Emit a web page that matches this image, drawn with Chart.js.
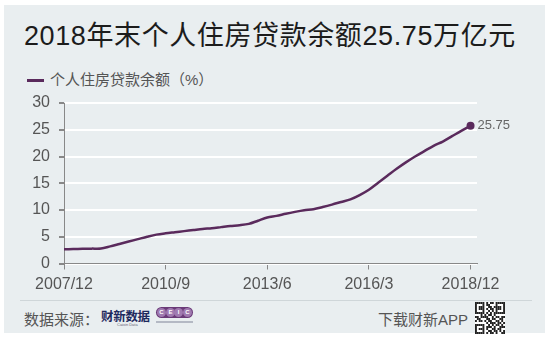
<!DOCTYPE html>
<html>
<head>
<meta charset="utf-8">
<script src="https://cdn.jsdelivr.net/npm/chart.js@4.4.0/dist/chart.umd.min.js"></script>
<style>
  html, body { margin: 0; padding: 0; background: #fff; }
  body { width: 546px; height: 339px; position: relative; overflow: hidden;
         font-family: "Liberation Sans", "Noto Sans CJK SC", sans-serif; }
  #panel { position: absolute; left: 4px; top: 5px; width: 541px; height: 328px; background: #e9eef0; }
  #title { position: absolute; left: 24px; top: 14px; font-size: 27px; color: #1c1c1c; white-space: nowrap; letter-spacing: 0.6px; }
  #legend { position: absolute; left: 27px; top: 68px; font-size: 15px; color: #555; white-space: nowrap; }
  #legend i { display: inline-block; width: 17px; height: 3px; background: #5a2a5c; vertical-align: middle; margin-right: 6px; position: relative; top: -1px; }
  #sep { position: absolute; left: 20px; top: 300px; width: 512px; height: 1px; background: #cfd6d9; }
  #src { position: absolute; left: 24px; top: 308px; font-size: 15px; color: #555; }
  #caixin { position: absolute; left: 101px; top: 306px; font-size: 12.5px; font-weight: bold; color: #1f2a5e; letter-spacing: -0.3px; }
  #caixin small { position: absolute; left: 16px; top: 16px; font-size: 4px; font-weight: normal; color: #667; letter-spacing: 0; }
  #ceic { position: absolute; left: 156px; top: 307px; width: 37px; height: 11px; border-radius: 6px; background: #6a3a78; }
  #ceic b { position: absolute; top: 1px; width: 9px; height: 9px; border-radius: 50%; background: #a07ab0; color: #fff; font-size: 6px; line-height: 9px; text-align: center; }
  #ceicsub { position: absolute; left: 156px; top: 321px; width: 37px; height: 2px; background: #b4b9c4; }
  #app { position: absolute; left: 378px; top: 308px; font-size: 15px; color: #555; }
  #qr { position: absolute; left: 475px; top: 302px; }
  #chart { position: absolute; left: 0; top: 0; }
</style>
</head>
<body>
<div id="panel"></div>
<div id="title">2018年末个人住房贷款余额25.75万亿元</div>
<div id="legend"><i></i>个人住房贷款余额（%）</div>
<div id="sep"></div>
<div id="src">数据来源：</div>
<div id="caixin">财新数据<small>Caixin Data</small></div>
<div id="ceic"><b style="left:1px">C</b><b style="left:10px">E</b><b style="left:18px">I</b><b style="left:27px">C</b></div>
<div id="ceicsub"></div>
<div id="app">下载财新APP</div>
<canvas id="qr" width="30" height="32"></canvas>
<canvas id="chart" width="546" height="339"></canvas>
<script>
// quarterly, 2007/12 .. 2018/12 (万亿元)
const values = [
  2.65, 2.7, 2.75, 2.78, 2.8, 3.2, 3.65, 4.1, 4.55, 5.0,
  5.4, 5.65, 5.85, 6.05, 6.25, 6.45, 6.6, 6.8, 7.0, 7.15,
  7.4, 8.0, 8.6, 8.9, 9.3, 9.65, 9.95, 10.15, 10.55, 11.0,
  11.5, 12.0, 12.8, 13.8, 15.1, 16.4, 17.7, 18.9, 20.0, 21.0,
  22.0, 22.8, 23.8, 24.8, 25.75
];
const tickIdx = [0, 11, 22, 33, 44];
const tickLabels = ['2007/12', '2010/9', '2013/6', '2016/3', '2018/12'];
const yTicks = [0, 5, 10, 15, 20, 25, 30];

const points = values.map((v, i) => ({ x: i, y: v }));
const lastIdx = values.length - 1;

const endLabel = {
  id: 'endLabel',
  afterDatasetsDraw(chart) {
    const ctx = chart.ctx;
    const xs = chart.scales.x, ys = chart.scales.y;
    const px = xs.getPixelForValue(lastIdx);
    const py = ys.getPixelForValue(values[lastIdx]);
    ctx.save();
    ctx.fillStyle = '#666';
    ctx.font = '13px "Liberation Sans", sans-serif';
    ctx.textBaseline = 'middle';
    ctx.fillText(values[lastIdx].toFixed(2), px + 7, py);
    ctx.restore();
  }
};

new Chart(document.getElementById('chart'), {
  type: 'line',
  data: {
    datasets: [{
      data: points,
      borderColor: '#5a2a5c',
      borderWidth: 2.5,
      tension: 0.3,
      pointRadius: values.map((v, i) => i === lastIdx ? 4 : 0),
      pointBackgroundColor: '#5a2a5c',
      pointBorderWidth: 0
    }]
  },
  options: {
    responsive: false,
    animation: false,
    devicePixelRatio: 1,
    layout: { padding: { left: 0, right: 69, top: 103, bottom: 0 } },
    plugins: { legend: { display: false }, tooltip: { enabled: false } },
    scales: {
      x: {
        type: 'linear',
        min: 0,
        max: 44.7,
        afterBuildTicks: s => { s.ticks = tickIdx.map(v => ({ value: v })); },
        afterFit: s => { s.height = 75.5; },
        grid: { drawOnChartArea: false, drawTicks: true, tickLength: 6, tickColor: '#888' },
        border: { color: '#888', width: 1 },
        ticks: {
          autoSkip: false,
          maxRotation: 0,
          padding: 5,
          color: '#555',
          font: { size: 16, family: '"Liberation Sans", sans-serif' },
          callback: v => tickLabels[tickIdx.indexOf(v)]
        }
      },
      y: {
        min: 0,
        max: 30,
        afterBuildTicks: s => { s.ticks = yTicks.map(v => ({ value: v })); },
        afterFit: s => { s.width = 64; },
        grid: { color: '#ffffff', lineWidth: 2, tickColor: '#888', tickLength: 5 },
        border: { color: '#888', width: 1 },
        ticks: {
          padding: 9,
          color: '#555',
          font: { size: 16, family: '"Liberation Sans", sans-serif' }
        }
      }
    }
  },
  plugins: [endLabel]
});

// simple QR-like mark
(function () {
  const c = document.getElementById('qr').getContext('2d');
  c.fillStyle = '#fff';
  c.fillRect(0, 0, 30, 32);
  c.fillStyle = '#222';
  const rows = [
    '1111101011011111',
    '1000101100010001',
    '1011100110111101',
    '1011101011011101',
    '1000100101010001',
    '1111101010111111',
    '0001010110100000',
    '1101111001011011',
    '0110001101100110',
    '1011010110011010',
    '0000001011101101',
    '1111100101011010',
    '1000101110100111',
    '1011101001101100',
    '1000100110110101',
    '1111101011010011'
  ];
  rows.forEach((r, y) => [...r].forEach((b, x) => { if (b === '1') c.fillRect(x * 1.875, y * 2, 1.875, 2); }));
})();
</script>
</body>
</html>
